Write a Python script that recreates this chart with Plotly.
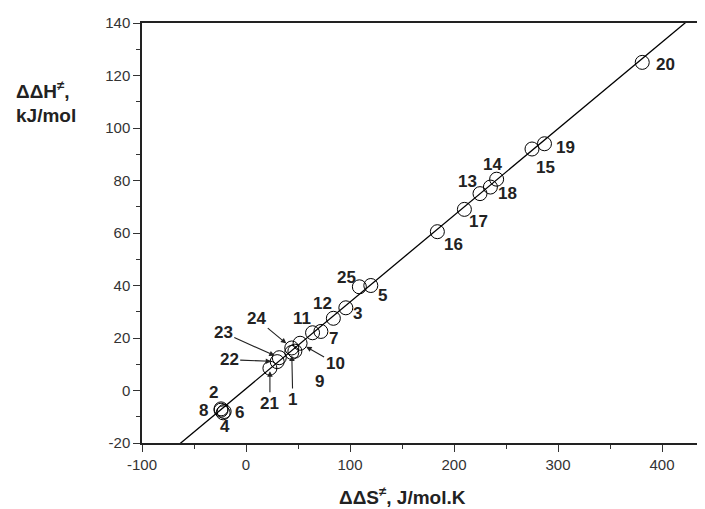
import plotly.graph_objects as go

# ---- data ----
ids = ["1", "2", "3", "4", "5", "6", "7", "8", "9", "10", "11", "12", "13",
       "14", "15", "16", "17", "18", "19", "20", "21", "22", "23", "24", "25"]
dS = [44, -24, 96, -22, 120, -21, 72, -24, 47, 52, 64, 84, 225,
      241, 275, 184, 210, 235, 287, 381, 23, 30, 32, 44, 109]
dH = [14.5, -7, 31.5, -8.5, 40, -8, 22.5, -7.5, 15, 18, 22, 27.5, 75,
      80.5, 92, 60.5, 69, 77.5, 94, 125, 8.5, 11, 12.5, 16.2, 39.5]

fit_slope = 0.330
fit_intercept = 0.7

x_ticks = [-100, 0, 100, 200, 300, 400]
y_ticks = [-20, 0, 20, 40, 60, 80, 100, 120, 140]

# label placement (pixel offsets from the point)
plain_offsets = {
    "20": (23, 2), "19": (21, 4), "15": (13, 18), "14": (-4, -15),
    "18": (17, 6), "13": (-13, -12), "17": (14, 12), "16": (16, 13),
    "25": (-13, -9), "5": (12, 10), "12": (-11, -15), "3": (12, 6),
    "11": (-11, -14), "7": (13, 7), "2": (-8, -16), "8": (-18, 0),
    "6": (15, 1), "4": (2, 14),
}
arrow_offsets = {
    "24": (-35, -29, 7), "23": (-56, -25, 5), "22": (-48, -2, 6),
    "21": (0, 35, 3), "1": (1, 47, 3), "9": (25, 30, 6), "10": (35, 20, 7),
}

PX_PER_UNIT = 1.04
L, T, PW, PH = 134, 12, 590, 423
FIG_W, FIG_H = 730, 509
x_range = [-100, -100 + PW / PX_PER_UNIT]
y_range = [-20, 140]

fig = go.Figure()

line_x = [x_range[0], x_range[1]]
line_y = [fit_slope * v + fit_intercept for v in line_x]
fig.add_trace(go.Scatter(x=line_x, y=line_y, mode="lines",
                         line=dict(color="black", width=1.3),
                         hoverinfo="skip", showlegend=False))

fig.add_trace(go.Scatter(x=dS, y=dH, mode="markers",
                         marker=dict(symbol="circle-open", size=14,
                                     color="black", line=dict(width=1)),
                         showlegend=False))

lab_font = dict(family="Liberation Sans, Arial, sans-serif", size=17,
                color="#222222")
annotations = []
for name, x, y in zip(ids, dS, dH):
    if name in plain_offsets:
        dx, dy = plain_offsets[name]
        annotations.append(dict(x=x, y=y, xref="x", yref="y", text="<b>%s</b>" % name,
                                showarrow=False, xshift=dx, yshift=-dy,
                                font=lab_font))
    else:
        ax, ay, so = arrow_offsets[name]
        annotations.append(dict(x=x, y=y, xref="x", yref="y", text="<b>%s</b>" % name,
                                showarrow=True, ax=ax, ay=ay, arrowhead=2,
                                arrowsize=1, arrowwidth=1.1, arrowcolor="#222222",
                                standoff=so, font=lab_font))

title_font = dict(family="Liberation Sans, Arial, sans-serif", size=19,
                  color="#222222")
annotations.append(dict(xref="paper", yref="paper", x=(402 - 142) / PW, y=0,
                        yshift=-53, xanchor="center", yanchor="middle",
                        text="<b>ΔΔS<sup>≠</sup>, J/mol.K</b>", showarrow=False,
                        font=title_font))
annotations.append(dict(xref="paper", yref="paper", x=(14 - 142) / PW,
                        y=1, yshift=-67, xanchor="left", yanchor="middle",
                        text="<b>ΔΔH<sup>≠</sup>,</b>", showarrow=False,
                        font=title_font))
annotations.append(dict(xref="paper", yref="paper", x=(14 - 142) / PW,
                        y=1, yshift=-92, xanchor="left", yanchor="middle",
                        text="<b>kJ/mol</b>", showarrow=False,
                        font=title_font))

tick_font = dict(family="Liberation Sans, Arial, sans-serif", size=15,
                 color="#333333")
fig.update_layout(
    width=FIG_W, height=FIG_H,
    margin=dict(l=L, r=FIG_W - L - PW, t=T, b=FIG_H - T - PH),
    paper_bgcolor="white", plot_bgcolor="white",
    annotations=annotations,
    xaxis=dict(range=x_range, tickvals=x_ticks, ticktext=[str(v) for v in x_ticks],
               showgrid=False, zeroline=False, showline=True, linecolor="#222222",
               linewidth=1.5, mirror=True, ticks="outside", ticklen=7, tickwidth=1.2,
               tickcolor="#333333", tickfont=tick_font,
               minor=dict(dtick=50, tick0=-100, ticks="outside", ticklen=4,
                          tickcolor="#333333", tickwidth=1.2, showgrid=False)),
    yaxis=dict(range=y_range, tickvals=y_ticks, ticktext=[str(v) for v in y_ticks],
               showgrid=False, zeroline=False, showline=True, linecolor="#222222",
               linewidth=1.5, ticks="outside", ticklen=7, tickwidth=1.2,
               tickcolor="#333333", tickfont=tick_font,
               minor=dict(dtick=10, tick0=-20, ticks="outside", ticklen=4,
                          tickcolor="#333333", tickwidth=1.2, showgrid=False)),
)

fig.write_html("out.html")
